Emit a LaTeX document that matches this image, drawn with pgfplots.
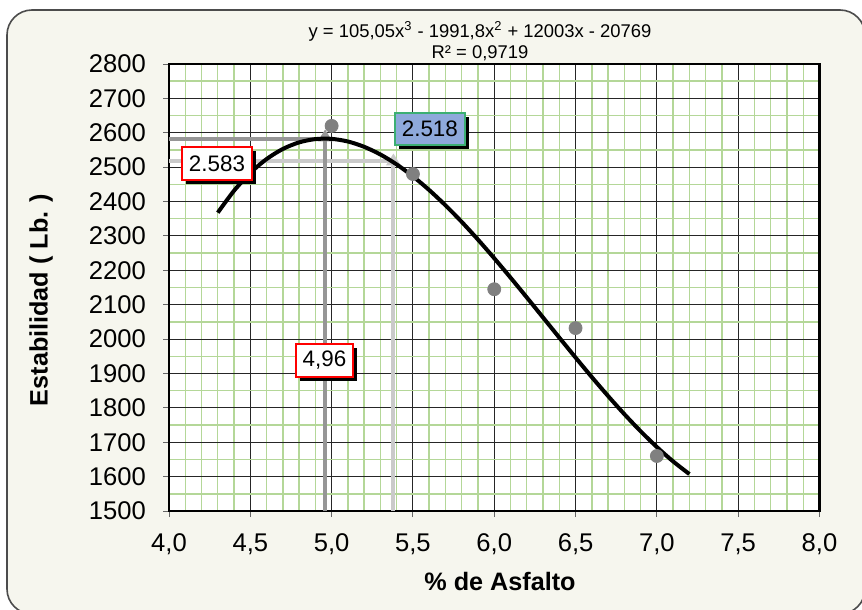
\documentclass[border=0pt]{standalone}
\usepackage{pgfplots}
\pgfplotsset{compat=1.18}
\usepackage{fontspec}
\setmainfont{Liberation Sans}
\usetikzlibrary{arrows.meta,shadows}

\definecolor{bgcream}{RGB}{246,246,238}
\definecolor{gridgreen}{RGB}{180,215,152}
\definecolor{ptgray}{RGB}{128,128,128}
\definecolor{darkref}{RGB}{150,150,150}
\definecolor{lightref}{RGB}{202,202,202}
\definecolor{boxblue}{RGB}{142,169,219}
\definecolor{boxgreen}{RGB}{60,175,115}

\begin{document}
\begin{tikzpicture}
% page frame (1 unit = 0.5pt, y downward)
\begin{scope}[x=0.5pt,y=-0.5pt]
\useasboundingbox (0,0) rectangle (862,610);
\draw[draw=black!70, line width=0.8pt, fill=bgcream, rounded corners=12.5pt] (7,10) rectangle (865,614);
\end{scope}

\begin{axis}[
  at={(84.5pt,-255.5pt)}, anchor=south west,
  scale only axis, width=325.25pt, height=223.5pt,
  xmin=4, xmax=8, ymin=1500, ymax=2800,
  xtick={4,4.5,...,8}, ytick={1500,1600,...,2800},
  minor x tick num=4, minor y tick num=1,
  grid=both,
  major grid style={black!85, line width=0.5pt},
  minor grid style={gridgreen, line width=0.7pt},
  axis line style={black, line width=1.3pt},
  axis background/.style={fill=white},
  tick pos=left, tick align=outside,
  major tick length=3pt, minor tick length=0pt,
  tick style={black!60, line width=0.5pt},
  /pgf/number format/assume math mode=true,
  tick label style={font=\fontsize{12.8}{14}\selectfont},
  xticklabel style={yshift=-5pt, /pgf/number format/.cd, use comma, fixed, fixed zerofill, precision=1},
  yticklabel style={xshift=-5pt, /pgf/number format/1000 sep={}},
]
% reference lines at the maximum and at the chosen content
\addplot[darkref, line width=2pt] coordinates {(4.0,2583)(4.96,2583)};
\addplot[lightref, line width=2pt] coordinates {(4.0,2518)(5.38,2518)};
\addplot[darkref, line width=2pt, -{Triangle[width=7pt,length=6pt]}] coordinates {(4.96,1500)(4.96,2610)};
\addplot[lightref, line width=2pt, -{Triangle[width=7pt,length=6pt]}] coordinates {(5.38,1500)(5.38,2540)};

% measured stability
\addplot[only marks, mark=*, mark size=3.25pt, color=ptgray, mark options={draw=ptgray, fill=ptgray}]
  coordinates {(5.0,2620)(5.5,2480)(6.0,2145)(6.5,2032)(7.0,1660)};

% cubic trend line
\addplot[black, line width=2pt, smooth] coordinates {
(4.3,2367.7)(4.4,2431.5)(4.5,2483.2)(4.6,2523.5)(4.7,2552.9)(4.8,2572.0)
(4.9,2581.6)(5.0,2582.3)(5.1,2574.6)(5.2,2559.2)(5.3,2536.8)(5.4,2507.9)
(5.5,2473.2)(5.6,2433.4)(5.7,2389.0)(5.8,2340.8)(5.9,2289.2)(6.0,2235.0)
(6.1,2178.8)(6.2,2121.2)(6.3,2062.8)(6.4,2004.3)(6.5,1946.3)(6.6,1889.4)
(6.7,1834.4)(6.8,1781.7)(6.9,1732.0)(7.0,1686.0)(7.1,1644.2)(7.2,1607.4)};

% value call-outs
\tikzset{callout/.style={line width=0.8pt, inner sep=0pt, minimum height=16.5pt,
  font=\fontsize{11.2}{13}\selectfont,
  drop shadow={shadow xshift=2.2pt, shadow yshift=-2.2pt, fill=black, opacity=1}}}
\node[callout, draw=red, fill=white, minimum width=35pt] at (axis cs:4.295,2511) {2.583};
\node[callout, draw=boxgreen, fill=boxblue, minimum width=35pt, minimum height=16pt] at (axis cs:5.604,2611) {2.518};
\node[callout, draw=red, fill=white, minimum width=28.5pt] at (axis cs:4.956,1938) {4,96};
\end{axis}

\begin{scope}[x=0.5pt,y=-0.5pt]
\node[font=\bfseries\fontsize{12.6}{14}\selectfont, rotate=90] at (41,300) {Estabilidad ( Lb. )};
\node[font=\bfseries\fontsize{12.6}{14}\selectfont] at (500,581) {\% de Asfalto};
\node[font=\fontsize{9.2}{11}\selectfont, anchor=base] at (480,38) {y = 105,05x\textsuperscript{3} - 1991,8x\textsuperscript{2} + 12003x - 20769};
\node[font=\fontsize{9.2}{11}\selectfont, anchor=base] at (480,59) {R² = 0,9719};
\end{scope}
\end{tikzpicture}
\end{document}
